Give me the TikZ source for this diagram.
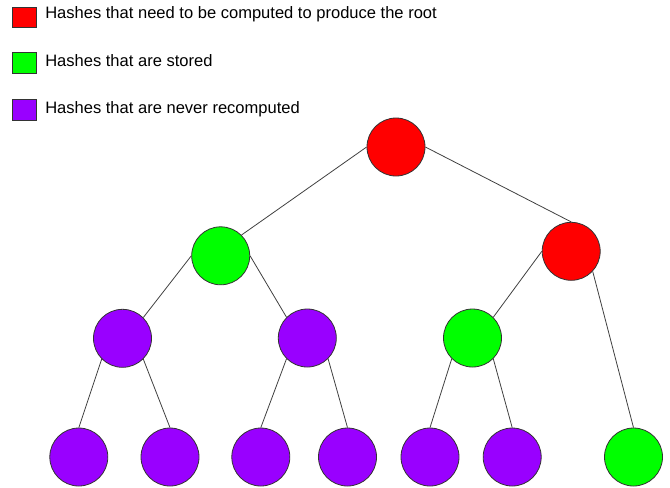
\documentclass[tikz,border=0pt]{standalone}
\usepackage{fontspec}
\setmainfont{Liberation Sans}
\definecolor{hred}{HTML}{FF0000}
\definecolor{hgreen}{HTML}{00FF00}
\definecolor{hpurple}{HTML}{9900FF}
\tikzset{
  hnode/.style={circle, draw=black!80, line width=0.6pt, minimum size=43.5pt, inner sep=0pt},
  rednode/.style={hnode, fill=hred},
  greennode/.style={hnode, fill=hgreen},
  purplenode/.style={hnode, fill=hpurple},
  legbox/.style={draw=black!80, line width=0.6pt, minimum width=18pt, minimum height=15.5pt, inner sep=0pt},
  legtext/.style={anchor=base west, inner sep=0pt, font=\fontsize{12.4}{14}\selectfont},
  edge/.style={draw=black!75, line width=0.6pt}
}
\begin{document}
\begin{tikzpicture}[x=0.75pt,y=-0.75pt]
\useasboundingbox (0,0) rectangle (670,487);
% legend
\node[legbox, fill=hred] (lr) at (24.3,17.3) {};
\node[legbox, fill=hgreen] (lg) at (24.3,63.2) {};
\node[legbox, fill=hpurple] (lp) at (24.3,110) {};
\node[legtext] (tr) at (45,18.3) {Hashes that need to be computed to produce the root};
\node[legtext] (tg) at (45,66) {Hashes that are stored};
\node[legtext] (tp) at (45,113.3) {Hashes that are never recomputed};
% tree
\node[rednode] (root) at (396,147) {};
\node[greennode] (a) at (220.7,255.8) {};
\node[rednode] (b) at (571.2,251.3) {};
\node[purplenode] (aa) at (122.5,338.3) {};
\node[purplenode] (ab) at (307.3,338) {};
\node[greennode] (ba) at (472.5,338) {};
\node[purplenode] (l1) at (78.8,457) {};
\node[purplenode] (l2) at (170,457) {};
\node[purplenode] (l3) at (260.8,457) {};
\node[purplenode] (l4) at (347.5,457) {};
\node[purplenode] (l5) at (430,457) {};
\node[purplenode] (l6) at (512.2,457) {};
\node[greennode] (l7) at (633.5,457) {};
% edges
\draw[edge] (root.west) -- (a.45);
\draw[edge] (root.east) -- (b.north);
\draw[edge] (a.west) -- (aa.45);
\draw[edge] (a.east) -- (ab.135);
\draw[edge] (b.west) -- (ba.45);
\draw[edge] (b.-43) -- (l7.north);
\draw[edge] (aa.225) -- (l1.north);
\draw[edge] (aa.-45) -- (l2.north);
\draw[edge] (ab.225) -- (l3.north);
\draw[edge] (ab.-45) -- (l4.north);
\draw[edge] (ba.225) -- (l5.north);
\draw[edge] (ba.-45) -- (l6.north);
\end{tikzpicture}
\end{document}
